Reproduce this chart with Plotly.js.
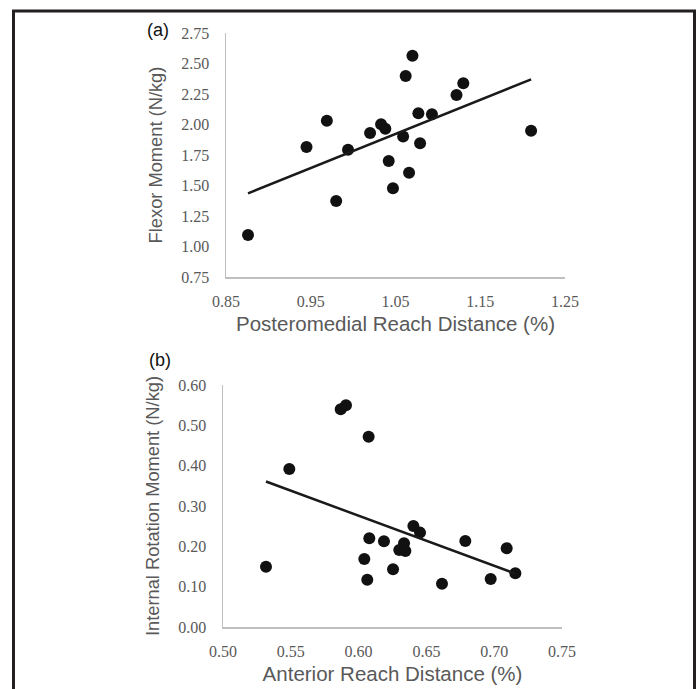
<!DOCTYPE html>
<html>
<head>
<meta charset="utf-8">
<script src="https://cdn.plot.ly/plotly-3.0.1.min.js"></script>
<style>html,body{margin:0;padding:0;background:#fff;}#chart{width:697px;height:689px;}</style>
</head>
<body>
<div id="chart"></div>
<script>
// Panel (a): Posteromedial reach distance vs flexor moment
const pmReach = [1.070, 1.062, 1.130, 1.122, 1.077, 1.093, 0.969, 1.033, 1.038, 1.210,
                 1.020, 1.059, 0.945, 1.079, 0.994, 1.042, 1.066, 1.047, 0.980, 0.876];
const flexorMoment = [2.564, 2.398, 2.338, 2.242, 2.092, 2.084, 2.031, 2.002, 1.966, 1.949,
                      1.930, 1.902, 1.816, 1.846, 1.793, 1.701, 1.605, 1.477, 1.373, 1.094];

// Panel (b): Anterior reach distance vs internal rotation moment
const antReach = [0.5868, 0.5907, 0.6074, 0.5489, 0.6404, 0.6453, 0.6079, 0.6187, 0.6787, 0.6335,
                  0.6300, 0.6345, 0.7092, 0.5317, 0.6042, 0.6254, 0.7156, 0.6064, 0.6974, 0.6615];
const irMoment = [0.540, 0.550, 0.4715, 0.392, 0.2506, 0.234, 0.220, 0.2126, 0.2134, 0.2077,
                  0.191, 0.1886, 0.1953, 0.1496, 0.1687, 0.1432, 0.1332, 0.1174, 0.119, 0.1074];

const xTicksA = [0.85, 0.95, 1.05, 1.15, 1.25];
const yTicksA = [0.75, 1.00, 1.25, 1.50, 1.75, 2.00, 2.25, 2.50, 2.75];
const xTicksB = [0.50, 0.55, 0.60, 0.65, 0.70, 0.75];
const yTicksB = [0.00, 0.10, 0.20, 0.30, 0.40, 0.50, 0.60];

function linfit(xs, ys) {
  const n = xs.length;
  let sx = 0, sy = 0, sxx = 0, sxy = 0;
  for (let i = 0; i < n; i++) { sx += xs[i]; sy += ys[i]; sxx += xs[i]*xs[i]; sxy += xs[i]*ys[i]; }
  const b = (n*sxy - sx*sy) / (n*sxx - sx*sx);
  const a = (sy - b*sx) / n;
  const x0 = Math.min(...xs), x1 = Math.max(...xs);
  return {x: [x0, x1], y: [a + b*x0, a + b*x1]};
}
const fitA = linfit(pmReach, flexorMoment);
const fitB = linfit(antReach, irMoment);

const W = 697, H = 689;
const mk = {size: 12, color: '#111111'};
const ln = {color: '#1a1a1a', width: 2.5};

const traces = [
  {x: pmReach, y: flexorMoment, mode: 'markers', type: 'scatter', marker: mk, xaxis: 'x', yaxis: 'y', cliponaxis: false},
  {x: fitA.x, y: fitA.y, mode: 'lines', type: 'scatter', line: ln, xaxis: 'x', yaxis: 'y'},
  {x: antReach, y: irMoment, mode: 'markers', type: 'scatter', marker: mk, xaxis: 'x2', yaxis: 'y2', cliponaxis: false},
  {x: fitB.x, y: fitB.y, mode: 'lines', type: 'scatter', line: ln, xaxis: 'x2', yaxis: 'y2'}
];

const tickFont = {family: '"Liberation Serif", "Times New Roman", serif', size: 16, color: '#595959'};
const xTitleFont = {family: '"Liberation Sans", Arial, sans-serif', size: 20.5, color: '#595959'};
const yTitleFont = {family: '"Liberation Sans", Arial, sans-serif', size: 18.3, color: '#595959'};

function xax(domain, range, ticks, fmt, title, anchor) {
  return {domain: domain, range: range, tickvals: ticks, ticktext: ticks.map(v => v.toFixed(2)),
    showgrid: false, zeroline: false, showline: true, linecolor: '#bfbfbf', linewidth: 1.5,
    ticks: 'outside', ticklen: 9, tickcolor: 'rgba(0,0,0,0)', tickfont: tickFont,
    title: {text: title, font: xTitleFont, standoff: 8}, anchor: anchor, automargin: false};
}
function yax(domain, range, ticks, title, anchor) {
  return {domain: domain, range: range, tickvals: ticks, ticktext: ticks.map(v => v.toFixed(2)),
    showgrid: false, zeroline: false, showline: true, linecolor: '#bfbfbf', linewidth: 1.5,
    ticks: 'outside', ticklen: 12, tickcolor: 'rgba(0,0,0,0)', tickfont: tickFont,
    title: {text: title, font: yTitleFont, standoff: 14}, anchor: anchor, automargin: false};
}

const layout = {
  width: W, height: H,
  margin: {l: 0, r: 0, t: 0, b: 0},
  paper_bgcolor: '#ffffff', plot_bgcolor: '#ffffff',
  showlegend: false,
  xaxis: xax([226/W, 565/W], [0.85, 1.25], xTicksA, 2, 'Posteromedial Reach Distance (%)', 'y'),
  yaxis: yax([1 - 277/H, 1 - 33/H], [0.75, 2.75], yTicksA, 'Flexor Moment (N/kg)', 'x'),
  xaxis2: xax([223/W, 562/W], [0.50, 0.75], xTicksB, 2, 'Anterior Reach Distance (%)', 'y2'),
  yaxis2: yax([1 - 627/H, 1 - 385/H], [0.00, 0.60], yTicksB, 'Internal Rotation Moment (N/kg)', 'x2'),
  annotations: [
    {text: '(a)', xref: 'paper', yref: 'paper', x: 158/W, y: 1 - 30/H, showarrow: false,
     xanchor: 'center', yanchor: 'middle', font: {family: '"Liberation Sans", Arial, sans-serif', size: 18, color: '#111'}},
    {text: '(b)', xref: 'paper', yref: 'paper', x: 159.5/W, y: 1 - 359.5/H, showarrow: false,
     xanchor: 'center', yanchor: 'middle', font: {family: '"Liberation Sans", Arial, sans-serif', size: 18, color: '#111'}}
  ],
  shapes: [
    {type: 'path', xref: 'paper', yref: 'paper',
     path: 'M ' + (13.5/W) + ' -0.05 L ' + (13.5/W) + ' ' + (1 - 11/H) + ' L ' + (694.5/W) + ' ' + (1 - 11/H) + ' L ' + (694.5/W) + ' -0.05',
     line: {color: '#231f20', width: 3}}
  ]
};

Plotly.newPlot('chart', traces, layout, {displayModeBar: false, staticPlot: true});
</script>
</body>
</html>
